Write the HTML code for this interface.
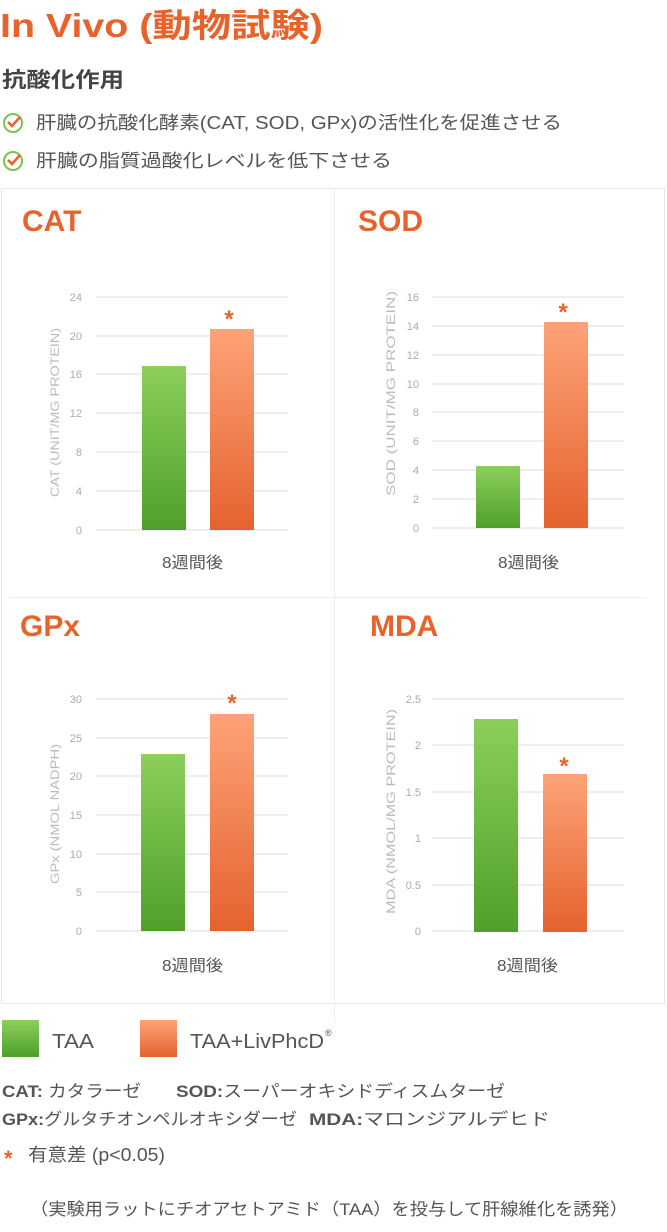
<!DOCTYPE html>
<html><head><meta charset="utf-8"><style>
html,body{margin:0;padding:0;background:#fff;}
svg{display:block;font-family:"Liberation Sans","Noto Sans CJK JP",sans-serif;}
</style></head><body>
<svg width="667" height="1232" viewBox="0 0 667 1232" xmlns="http://www.w3.org/2000/svg">
<defs>
<linearGradient id="g" x1="0" y1="0" x2="0" y2="1"><stop offset="0" stop-color="#8ccf5c"/><stop offset="1" stop-color="#4fa02a"/></linearGradient>
<linearGradient id="o" x1="0" y1="0" x2="0" y2="1"><stop offset="0" stop-color="#fda378"/><stop offset="1" stop-color="#e5622e"/></linearGradient>
</defs>
<text x="0" y="37" font-size="33" font-weight="bold" fill="#e8632c" textLength="323" lengthAdjust="spacingAndGlyphs">In Vivo (動物試験)</text>
<text x="2" y="87" font-size="21" font-weight="bold" fill="#444" textLength="122" lengthAdjust="spacingAndGlyphs">抗酸化作用</text>
<g fill="none" stroke-width="2"><circle cx="13" cy="123" r="9" stroke="#7cc350"/><circle cx="13" cy="161" r="9" stroke="#7cc350"/>
<path d="M8 122l4 4 8-9" stroke="#e8632c" stroke-width="2.5"/><path d="M8 160l4 4 8-9" stroke="#e8632c" stroke-width="2.5"/></g>
<text x="36" y="129" font-size="18" fill="#555" textLength="526" lengthAdjust="spacingAndGlyphs">肝臓の抗酸化酵素(CAT, SOD, GPx)の活性化を促進させる</text>
<text x="36" y="167" font-size="18" fill="#555" textLength="356" lengthAdjust="spacingAndGlyphs">肝臓の脂質過酸化レベルを低下させる</text>
<rect x="1.5" y="188.5" width="663" height="815" fill="none" stroke="#e6e6e6"/>
<line x1="334.5" y1="188" x2="334.5" y2="1022" stroke="#eee"/>
<line x1="10" y1="597.5" x2="645" y2="597.5" stroke="#eee"/>
<g font-size="30" font-weight="bold" fill="#e8632c"><text x="22" y="231">CAT</text><text x="358" y="231">SOD</text><text x="20" y="636">GPx</text><text x="370" y="636">MDA</text></g>
<g stroke="#e9e9e9" stroke-width="1.5">
<line x1="96" y1="297" x2="288" y2="297"/><line x1="96" y1="336" x2="288" y2="336"/><line x1="96" y1="374" x2="288" y2="374"/><line x1="96" y1="413" x2="288" y2="413"/><line x1="96" y1="452" x2="288" y2="452"/><line x1="96" y1="491" x2="288" y2="491"/><line x1="96" y1="530" x2="288" y2="530"/>
<line x1="432" y1="297" x2="624" y2="297"/><line x1="432" y1="326" x2="624" y2="326"/><line x1="432" y1="355" x2="624" y2="355"/><line x1="432" y1="384" x2="624" y2="384"/><line x1="432" y1="412" x2="624" y2="412"/><line x1="432" y1="441" x2="624" y2="441"/><line x1="432" y1="470" x2="624" y2="470"/><line x1="432" y1="499" x2="624" y2="499"/><line x1="432" y1="528" x2="624" y2="528"/>
<line x1="96" y1="699" x2="288" y2="699"/><line x1="96" y1="738" x2="288" y2="738"/><line x1="96" y1="776" x2="288" y2="776"/><line x1="96" y1="815" x2="288" y2="815"/><line x1="96" y1="854" x2="288" y2="854"/><line x1="96" y1="892" x2="288" y2="892"/><line x1="96" y1="931" x2="288" y2="931"/>
<line x1="432" y1="699" x2="624" y2="699"/><line x1="432" y1="745" x2="624" y2="745"/><line x1="432" y1="792" x2="624" y2="792"/><line x1="432" y1="838" x2="624" y2="838"/><line x1="432" y1="885" x2="624" y2="885"/><line x1="432" y1="931" x2="624" y2="931"/>
</g>
<g font-size="11" fill="#aaa" text-anchor="end">
<text x="82" y="301">24</text><text x="82" y="340">20</text><text x="82" y="378">16</text><text x="82" y="417">12</text><text x="82" y="456">8</text><text x="82" y="495">4</text><text x="82" y="534">0</text>
<text x="419" y="301">16</text><text x="419" y="330">14</text><text x="419" y="359">12</text><text x="419" y="388">10</text><text x="419" y="416">8</text><text x="419" y="445">6</text><text x="419" y="474">4</text><text x="419" y="503">2</text><text x="419" y="532">0</text>
<text x="82" y="703">30</text><text x="82" y="742">25</text><text x="82" y="780">20</text><text x="82" y="819">15</text><text x="82" y="858">10</text><text x="82" y="896">5</text><text x="82" y="935">0</text>
<text x="421" y="703">2.5</text><text x="421" y="749">2</text><text x="421" y="796">1.5</text><text x="421" y="842">1</text><text x="421" y="889">0.5</text><text x="421" y="935">0</text>
</g>
<g font-size="12" fill="#bbb" lengthAdjust="spacingAndGlyphs">
<text transform="translate(59,497) rotate(-90)" textLength="169" lengthAdjust="spacingAndGlyphs">CAT (UNIT/MG PROTEIN)</text>
<text transform="translate(395,496) rotate(-90)" textLength="205" lengthAdjust="spacingAndGlyphs">SOD (UNIT/MG PROTEIN)</text>
<text transform="translate(59,884) rotate(-90)" textLength="140" lengthAdjust="spacingAndGlyphs">GPx (NMOL NADPH)</text>
<text transform="translate(395,914) rotate(-90)" textLength="205" lengthAdjust="spacingAndGlyphs">MDA (NMOL/MG PROTEIN)</text>
</g>
<rect x="142" y="366" width="44" height="164" fill="url(#g)"/><rect x="210" y="329" width="44" height="201" fill="url(#o)"/>
<rect x="476" y="466" width="44" height="62" fill="url(#g)"/><rect x="544" y="322" width="44" height="206" fill="url(#o)"/>
<rect x="141" y="754" width="44" height="177" fill="url(#g)"/><rect x="210" y="714" width="44" height="217" fill="url(#o)"/>
<rect x="474" y="719" width="44" height="213" fill="url(#g)"/><rect x="543" y="774" width="44" height="158" fill="url(#o)"/>
<g font-size="24" font-weight="bold" fill="#e8632c" text-anchor="middle"><text x="229" y="327">*</text><text x="563" y="320">*</text><text x="232" y="711">*</text><text x="564" y="774">*</text></g>
<g font-size="16" fill="#555"><text x="162" y="568" textLength="61" lengthAdjust="spacingAndGlyphs">8週間後</text><text x="498" y="568" textLength="61" lengthAdjust="spacingAndGlyphs">8週間後</text><text x="162" y="971" textLength="61" lengthAdjust="spacingAndGlyphs">8週間後</text><text x="497" y="971" textLength="61" lengthAdjust="spacingAndGlyphs">8週間後</text></g>
<rect x="2" y="1020" width="37" height="37" fill="url(#g)"/><rect x="140" y="1020" width="37" height="37" fill="url(#o)"/>
<text x="52" y="1048" font-size="20" fill="#555" textLength="42" lengthAdjust="spacingAndGlyphs">TAA</text>
<text x="190" y="1048" font-size="20" fill="#555" textLength="134" lengthAdjust="spacingAndGlyphs">TAA+LivPhcD</text>
<text x="325" y="1036" font-size="9" fill="#555">®</text>
<text x="2" y="1097" font-size="17" fill="#555" textLength="139" lengthAdjust="spacingAndGlyphs"><tspan font-weight="bold">CAT:</tspan> カタラーゼ</text>
<text x="176" y="1097" font-size="17" fill="#555" textLength="329" lengthAdjust="spacingAndGlyphs"><tspan font-weight="bold">SOD:</tspan>スーパーオキシドディスムターゼ</text>
<text x="2" y="1125" font-size="17" fill="#555" textLength="295" lengthAdjust="spacingAndGlyphs"><tspan font-weight="bold">GPx:</tspan>グルタチオンペルオキシダーゼ</text>
<text x="309" y="1125" font-size="17" fill="#555" textLength="241" lengthAdjust="spacingAndGlyphs"><tspan font-weight="bold">MDA:</tspan>マロンジアルデヒド</text>
<text x="4" y="1166" font-size="22" font-weight="bold" fill="#e8632c">*</text>
<text x="28" y="1161" font-size="18" fill="#555" textLength="137" lengthAdjust="spacingAndGlyphs">有意差 (p&lt;0.05)</text>
<text x="30" y="1215" font-size="17" fill="#555" textLength="598" lengthAdjust="spacingAndGlyphs">（実験用ラットにチオアセトアミド（TAA）を投与して肝線維化を誘発）</text>
</svg>
</body></html>
